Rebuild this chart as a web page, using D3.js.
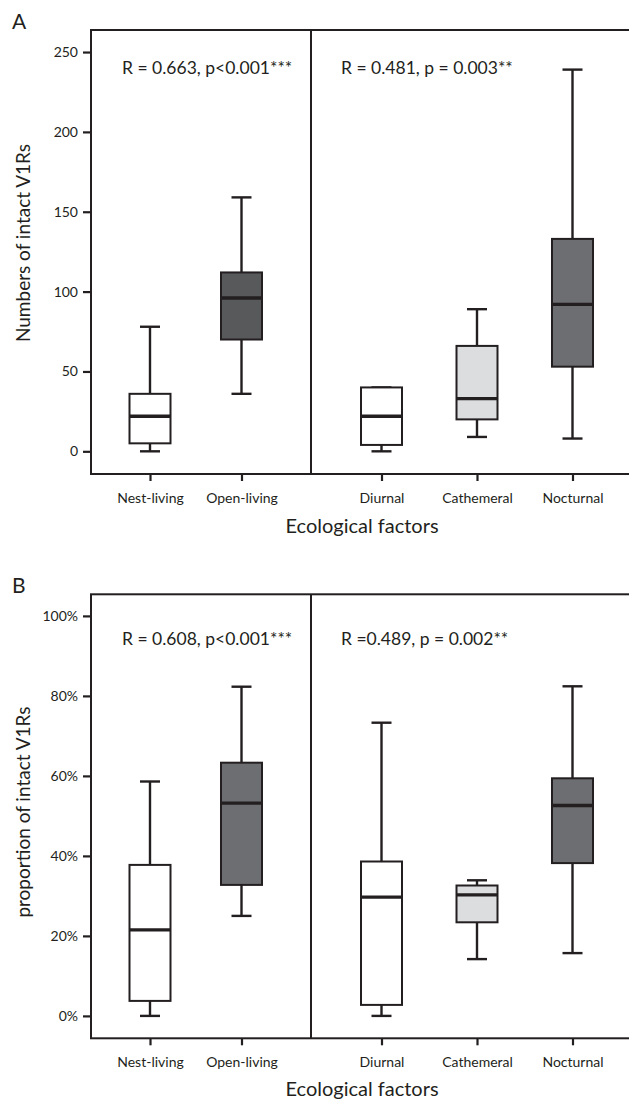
<!DOCTYPE html>
<html>
<head>
<meta charset="utf-8">
<script src="https://cdn.jsdelivr.net/npm/d3@7"></script>
<style>
  body { margin: 0; background: #fff; }
  svg { display: block; }
  text { font-family: Lato, "Open Sans", sans-serif; fill: #231f20; }
</style>
</head>
<body>
<svg id="chart" width="629" height="1101"></svg>
<script>
// ---------- data ----------
const habitatCats = ["Nest-living", "Open-living"];
const activityCats = ["Diurnal", "Cathemeral", "Nocturnal"];
const categories = habitatCats.concat(activityCats);

// Panel A: numbers of intact V1Rs (box-plot statistics)
const countMin    = [0, 36, 0, 9, 8];
const countQ1     = [5, 70, 4, 20, 53];
const countMedian = [22, 96, 22, 33, 92];
const countQ3     = [36, 112, 40, 66, 133];
const countMax    = [78, 159, 40, 89, 239];
const countTicks  = [0, 50, 100, 150, 200, 250];

// Panel B: proportion of intact V1Rs
const propMin    = [0, 0.25, 0, 0.142, 0.157];
const propQ1     = [0.0375, 0.3275, 0.0275, 0.234, 0.382];
const propMedian = [0.215, 0.532, 0.297, 0.3025, 0.526];
const propQ3     = [0.3775, 0.633, 0.386, 0.326, 0.594];
const propMax    = [0.586, 0.823, 0.733, 0.339, 0.824];
const propTicks  = [0, 0.2, 0.4, 0.6, 0.8, 1.0];

const annotationsA = ["R = 0.663, p<0.001***", "R = 0.481, p = 0.003**"];
const annotationsB = ["R = 0.608, p<0.001***", "R =0.489, p = 0.002**"];
const xTitle = "Ecological factors";

// ---------- drawing ----------
const svg = d3.select("#chart");
const ink = "#231f20";

const xLeft = d3.scalePoint().domain(habitatCats).range([150, 241.5]);
const xRight = d3.scalePoint().domain(activityCats).range([381.5, 572.5]);
const xPos = c => habitatCats.includes(c) ? xLeft(c) : xRight(c);

function drawPanel(cfg) {
  const g = svg.append("g");
  const L = 91, R = 631, T = cfg.top, B = cfg.bottom, D = 311;
  const y = d3.scaleLinear().domain(cfg.domain).range([B, T]);

  // y axis ticks
  const yAxis = d3.axisLeft(y).tickValues(cfg.ticks).tickSize(8).tickPadding(5)
    .tickFormat(cfg.fmt);
  const ya = g.append("g").attr("transform", `translate(${L},0)`).call(yAxis);
  ya.select(".domain").remove();
  ya.selectAll(".tick line").attr("stroke", ink).attr("stroke-width", 2.2);
  ya.selectAll(".tick text").style("font-size", "14px").attr("fill", ink)
    .style("font-family", "Lato, 'Open Sans', sans-serif");

  // x axis ticks
  const xAxisL = d3.axisBottom(xLeft).tickSize(7).tickPadding(12);
  const xAxisR = d3.axisBottom(xRight).tickSize(7).tickPadding(12);
  [xAxisL, xAxisR].forEach(ax => {
    const xa = g.append("g").attr("transform", `translate(0,${B})`).call(ax);
    xa.select(".domain").remove();
    xa.selectAll(".tick line").attr("stroke", ink).attr("stroke-width", 2.2);
    xa.selectAll(".tick text").style("font-size", "14px").attr("fill", ink)
      .style("font-family", "Lato, 'Open Sans', sans-serif");
  });

  // frame
  g.append("rect").attr("x", L).attr("y", T).attr("width", R - L).attr("height", B - T)
    .attr("fill", "none").attr("stroke", ink).attr("stroke-width", 2);
  g.append("line").attr("x1", D).attr("x2", D).attr("y1", T).attr("y2", B)
    .attr("stroke", ink).attr("stroke-width", 2);

  // boxes
  const color = d3.scaleOrdinal().domain(categories).range(cfg.fills);
  const bw = 41, cw = 20;
  categories.forEach((c, i) => {
    const cx = xPos(c);
    const bg = g.append("g");
    // whiskers
    bg.append("line").attr("x1", cx).attr("x2", cx)
      .attr("y1", y(cfg.max[i])).attr("y2", y(cfg.q3[i]))
      .attr("stroke", ink).attr("stroke-width", 2.4);
    bg.append("line").attr("x1", cx).attr("x2", cx)
      .attr("y1", y(cfg.q1[i])).attr("y2", y(cfg.min[i]))
      .attr("stroke", ink).attr("stroke-width", 2.4);
    // caps
    [cfg.max[i], cfg.min[i]].forEach(v => {
      bg.append("line").attr("x1", cx - cw / 2).attr("x2", cx + cw / 2)
        .attr("y1", y(v)).attr("y2", y(v))
        .attr("stroke", ink).attr("stroke-width", 2.4);
    });
    // box
    bg.append("rect").attr("x", cx - bw / 2).attr("width", bw)
      .attr("y", y(cfg.q3[i])).attr("height", y(cfg.q1[i]) - y(cfg.q3[i]))
      .attr("fill", color(c)).attr("stroke", ink).attr("stroke-width", 2);
    // median
    bg.append("line").attr("x1", cx - bw / 2).attr("x2", cx + bw / 2)
      .attr("y1", y(cfg.med[i])).attr("y2", y(cfg.med[i]))
      .attr("stroke", ink).attr("stroke-width", 3.4);
  });

  // annotations
  g.append("text").attr("x", 122).attr("y", cfg.annY).text(cfg.ann[0])
    .style("font-size", "17.5px");
  g.append("text").attr("x", 341).attr("y", cfg.annY).text(cfg.ann[1])
    .style("font-size", "17.5px");

  // panel letter
  g.append("text").attr("x", 12).attr("y", cfg.letterY).text(cfg.letter)
    .style("font-size", "21px");

  // y title
  g.append("text").attr("transform", `translate(30,${cfg.yTitleC}) rotate(-90)`)
    .attr("text-anchor", "middle").text(cfg.yTitle).style("font-size", "19px");

  // x title
  g.append("text").attr("x", 362).attr("y", cfg.xTitleY).attr("text-anchor", "middle")
    .text(xTitle).style("font-size", "20px");
}

drawPanel({
  top: 30, bottom: 474, domain: [-14.2, 263.8], ticks: countTicks,
  fmt: d3.format("d"),
  min: countMin, q1: countQ1, med: countMedian, q3: countQ3, max: countMax,
  fills: ["#ffffff", "#58595b", "#ffffff", "#dcddde", "#6d6e71"],
  ann: annotationsA, annY: 74, letter: "A", letterY: 29,
  yTitle: "Numbers of intact V1Rs", yTitleC: 243, xTitleY: 533
});

drawPanel({
  top: 594.3, bottom: 1038.3, domain: [-0.056, 1.054], ticks: propTicks,
  fmt: d3.format(".0%"),
  min: propMin, q1: propQ1, med: propMedian, q3: propQ3, max: propMax,
  fills: ["#ffffff", "#6d6e71", "#ffffff", "#dcddde", "#6d6e71"],
  ann: annotationsB, annY: 645, letter: "B", letterY: 593,
  yTitle: "proportion of intact V1Rs", yTitleC: 812, xTitleY: 1096
});
</script>
</body>
</html>
